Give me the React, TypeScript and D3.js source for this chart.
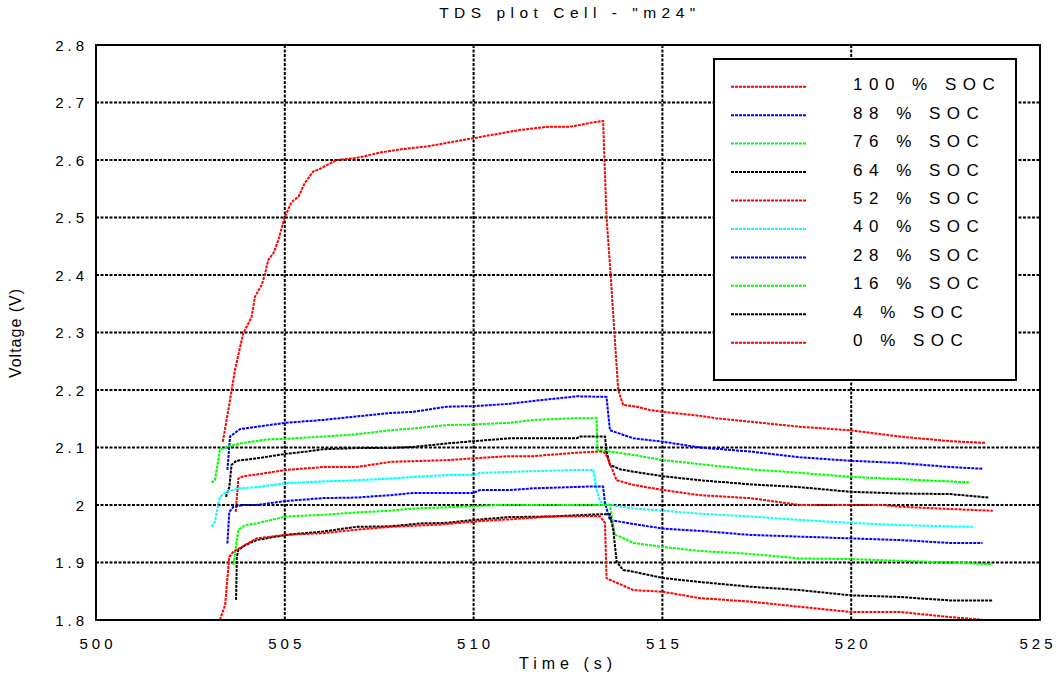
import React from "react";
import * as d3 from "d3";

type Pt = [number, number];

// Time ticks (s) and voltage ticks (V)
const timeTicks = [500, 505, 510, 515, 520, 525];
const voltTicks = [1.8, 1.9, 2.0, 2.1, 2.2, 2.3, 2.4, 2.5, 2.6, 2.7, 2.8];

// Pulse responses, [time (s), voltage (V)]
const soc100: Pt[] = [
  [503.36, 2.11], [503.55, 2.183], [503.68, 2.235], [503.9, 2.299], [503.99, 2.31], [504.12, 2.327],
  [504.21, 2.362], [504.39, 2.383], [504.48, 2.403], [504.56, 2.426], [504.7, 2.438], [504.83, 2.461],
  [505.0, 2.501], [505.18, 2.527], [505.36, 2.536], [505.53, 2.56], [505.75, 2.58], [505.89, 2.583],
  [506.11, 2.591], [506.37, 2.6], [506.82, 2.603], [507.08, 2.606], [507.52, 2.613], [508.0, 2.618],
  [508.8, 2.624], [510.0, 2.638], [511.2, 2.652], [512.0, 2.658], [512.55, 2.658], [512.82, 2.661],
  [513.13, 2.665], [513.43, 2.668], [513.52, 2.501], [513.63, 2.4], [513.73, 2.299], [513.83, 2.2],
  [513.96, 2.174], [514.32, 2.171], [514.67, 2.165], [515.02, 2.162], [516.0, 2.155], [516.4, 2.151],
  [517.3, 2.145], [518.64, 2.136], [519.97, 2.13], [521.29, 2.119], [522.62, 2.111], [523.57, 2.108],
];
const soc88: Pt[] = [
  [503.48, 2.061], [503.55, 2.119], [503.81, 2.132], [504.25, 2.136], [505.03, 2.143], [506.02, 2.148],
  [506.9, 2.154], [507.79, 2.16], [508.4, 2.162], [509.29, 2.171], [509.99, 2.172], [510.96, 2.176],
  [511.58, 2.181], [512.73, 2.189], [513.52, 2.188], [513.61, 2.13], [514.23, 2.116], [515.02, 2.11],
  [516.0, 2.1], [517.32, 2.093], [518.64, 2.083], [519.97, 2.077], [521.29, 2.073], [522.62, 2.066],
  [523.48, 2.063],
];
const soc76: Pt[] = [
  [503.06, 2.039], [503.15, 2.043], [503.28, 2.096], [503.55, 2.103], [503.81, 2.107], [504.52, 2.114],
  [505.03, 2.115], [506.02, 2.119], [506.9, 2.123], [507.79, 2.13], [508.4, 2.133], [509.29, 2.139],
  [509.99, 2.14], [510.96, 2.143], [511.58, 2.148], [512.73, 2.151], [513.26, 2.151], [513.28, 2.096],
  [513.61, 2.093], [514.23, 2.087], [515.02, 2.078], [516.0, 2.071], [517.32, 2.062], [518.64, 2.056],
  [519.97, 2.049], [521.29, 2.045], [522.62, 2.041], [523.15, 2.039],
];
const soc64: Pt[] = [
  [503.44, 2.014], [503.53, 2.031], [503.59, 2.07], [503.72, 2.077], [504.25, 2.081], [505.03, 2.089],
  [505.58, 2.093], [506.02, 2.097], [506.9, 2.099], [507.79, 2.099], [508.4, 2.101], [509.29, 2.107],
  [509.99, 2.111], [510.96, 2.116], [512.73, 2.116], [512.82, 2.119], [513.48, 2.119], [513.52, 2.093],
  [513.61, 2.07], [513.88, 2.062], [514.23, 2.058], [515.02, 2.05], [516.0, 2.043], [517.32, 2.036],
  [518.64, 2.031], [519.97, 2.023], [521.29, 2.02], [522.62, 2.019], [523.63, 2.013],
];
const soc52: Pt[] = [
  [503.7, 1.988], [503.77, 2.046], [503.9, 2.05], [504.25, 2.053], [505.03, 2.061], [506.02, 2.066],
  [506.9, 2.066], [507.79, 2.075], [509.29, 2.078], [509.99, 2.081], [510.96, 2.085], [511.58, 2.085],
  [512.73, 2.091], [513.35, 2.093], [513.48, 2.091], [513.57, 2.078], [513.79, 2.043], [514.23, 2.035],
  [515.02, 2.026], [516.0, 2.017], [517.32, 2.012], [518.64, 2.0], [520.84, 2.0], [521.29, 1.997],
  [522.62, 1.993], [523.75, 1.99],
];
const soc40: Pt[] = [
  [503.06, 1.962], [503.15, 1.971], [503.28, 2.014], [503.46, 2.023], [503.81, 2.029], [504.25, 2.031],
  [505.03, 2.038], [506.02, 2.041], [506.9, 2.043], [507.79, 2.046], [508.4, 2.049], [509.29, 2.052],
  [509.99, 2.052], [510.17, 2.056], [512.73, 2.061], [513.17, 2.061], [513.26, 2.026], [513.35, 2.006],
  [513.61, 2.0], [514.23, 1.994], [515.02, 1.99], [516.0, 1.985], [517.32, 1.98], [518.64, 1.974],
  [519.97, 1.969], [521.29, 1.965], [523.22, 1.962],
];
const soc28: Pt[] = [
  [503.48, 1.933], [503.53, 1.988], [503.64, 1.997], [503.9, 2.0], [504.25, 2.0], [505.03, 2.007],
  [506.02, 2.012], [506.9, 2.013], [507.79, 2.017], [508.4, 2.021], [509.99, 2.021], [510.17, 2.026],
  [510.96, 2.026], [511.58, 2.029], [513.0, 2.032], [513.43, 2.032], [513.48, 2.003], [513.61, 1.974],
  [514.23, 1.967], [515.02, 1.959], [516.0, 1.955], [517.32, 1.948], [518.64, 1.945], [519.97, 1.942],
  [521.29, 1.939], [522.62, 1.934], [523.48, 1.934],
];
const soc16: Pt[] = [
  [503.64, 1.896], [503.68, 1.916], [503.77, 1.957], [503.95, 1.965], [504.25, 1.968], [505.03, 1.98],
  [506.02, 1.983], [506.9, 1.987], [507.79, 1.99], [508.4, 1.994], [509.29, 1.996], [509.99, 1.998],
  [510.61, 2.0], [513.61, 2.0], [513.65, 1.985], [513.74, 1.948], [513.88, 1.945], [514.23, 1.934],
  [515.02, 1.927], [516.0, 1.92], [517.32, 1.915], [518.64, 1.907], [519.97, 1.906], [521.29, 1.903],
  [522.62, 1.9], [523.75, 1.897],
];
const soc4: Pt[] = [
  [503.71, 1.835], [503.73, 1.91], [503.77, 1.922], [503.95, 1.93], [504.25, 1.939], [505.03, 1.948],
  [506.02, 1.954], [506.9, 1.962], [507.79, 1.963], [508.6, 1.968], [509.29, 1.969], [509.99, 1.974],
  [510.96, 1.979], [512.02, 1.98], [513.35, 1.984], [513.61, 1.984], [513.7, 1.956], [513.79, 1.901],
  [513.96, 1.887], [514.23, 1.884], [515.02, 1.873], [516.0, 1.866], [517.32, 1.858], [518.64, 1.852],
  [519.97, 1.843], [521.29, 1.84], [522.62, 1.834], [523.75, 1.834],
];
const soc0: Pt[] = [
  [503.28, 1.8], [503.42, 1.826], [503.46, 1.858], [503.53, 1.91], [503.64, 1.919], [503.81, 1.925],
  [504.25, 1.942], [505.03, 1.948], [506.02, 1.951], [506.9, 1.957], [507.79, 1.962], [509.1, 1.966],
  [509.99, 1.971], [510.61, 1.974], [510.96, 1.975], [512.02, 1.98], [513.17, 1.981], [513.35, 1.98],
  [513.48, 1.969], [513.52, 1.873], [513.61, 1.87], [514.23, 1.852], [515.02, 1.849], [516.0, 1.838],
  [517.32, 1.832], [518.64, 1.823], [519.97, 1.814], [521.29, 1.814], [522.62, 1.805], [523.54, 1.8],
];

const seriesLabels = ["100 % SOC", "88 % SOC", "76 % SOC", "64 % SOC", "52 % SOC", "40 % SOC", "28 % SOC", "16 % SOC", "4 % SOC", "0 % SOC"];
const seriesColors = ["#ff0000", "#0000ff", "#00ff00", "#000000", "#ff0000", "#00ffff", "#0000ff", "#00ff00", "#000000", "#ff0000"];
const seriesData = [soc100, soc88, soc76, soc64, soc52, soc40, soc28, soc16, soc4, soc0];

const W = 1059;
const H = 677;
const M = { left: 96, right: 1040, top: 45, bottom: 620 };
const FONT = "'Liberation Sans', Arial, sans-serif";

export default function App() {
  const x = d3.scaleLinear().domain([500, 525]).range([M.left, M.right]);
  const y = d3.scaleLinear().domain([1.8, 2.8]).range([M.bottom, M.top]);
  const line = d3
    .line<Pt>()
    .x((d) => x(d[0]))
    .y((d) => y(d[1]));

  const legend = { x0: 714, y0: 59, x1: 1016, y1: 380, rowTop: 86.7, rowStep: 28.45 };
  const tickFmt = (v: number) => d3.format("~g")(+v.toFixed(1));

  return (
    <svg
      width={W}
      height={H}
      style={{ position: "absolute", left: 0, top: 0, background: "#fff" }}
      fontFamily={FONT}
    >
      <defs>
        <clipPath id="plot-clip">
          <rect x={M.left} y={M.top} width={M.right - M.left} height={M.bottom - M.top} />
        </clipPath>
      </defs>

      {/* dotted grid */}
      <g stroke="#000" strokeWidth={2} strokeDasharray="3,1.5">
        {timeTicks.slice(1, -1).map((t) => (
          <line key={`gx${t}`} x1={x(t)} x2={x(t)} y1={M.top} y2={M.bottom} />
        ))}
        {voltTicks.slice(1, -1).map((v) => (
          <line key={`gy${v}`} x1={M.left} x2={M.right} y1={y(v)} y2={y(v)} />
        ))}
      </g>

      {/* series */}
      <g clipPath="url(#plot-clip)" fill="none" strokeWidth={2} strokeDasharray="3,1">
        {seriesData.map((d, i) => (
          <path key={seriesLabels[i]} d={line(d) ?? ""} stroke={seriesColors[i]} />
        ))}
      </g>

      {/* frame */}
      <rect
        x={M.left}
        y={M.top}
        width={M.right - M.left}
        height={M.bottom - M.top}
        fill="none"
        stroke="#000"
        strokeWidth={2}
      />

      {/* tick labels */}
      <g fontSize={15} fill="#000" letterSpacing={4}>
        {timeTicks.map((t) => (
          <text key={`tx${t}`} x={x(t) + (t === 525 ? -2 : 2)} y={649} textAnchor="middle">
            {t}
          </text>
        ))}
        {voltTicks.map((v) => (
          <text key={`ty${v}`} x={88} y={y(v) + 5.5} textAnchor="end">
            {tickFmt(v)}
          </text>
        ))}
      </g>

      {/* titles */}
      <text x={570} y={18} textAnchor="middle" fontSize={15.5} letterSpacing={5.5}>
        TDS plot Cell - "m24"
      </text>
      <text x={568} y={669} textAnchor="middle" fontSize={16} letterSpacing={5}>
        Time (s)
      </text>
      <text
        transform={`translate(21, 333) rotate(-90)`}
        textAnchor="middle"
        fontSize={16}
        letterSpacing={1}
      >
        Voltage (V)
      </text>

      {/* legend */}
      <rect
        x={legend.x0}
        y={legend.y0}
        width={legend.x1 - legend.x0}
        height={legend.y1 - legend.y0}
        fill="#fff"
        stroke="#000"
        strokeWidth={2}
      />
      {seriesLabels.map((label, i) => {
        const ly = legend.rowTop + i * legend.rowStep;
        return (
          <g key={`lg${label}`}>
            <line
              x1={731}
              x2={807}
              y1={ly}
              y2={ly}
              stroke={seriesColors[i]}
              strokeWidth={2}
              strokeDasharray="3,1"
            />
            <text x={853} y={ly + 3.5} fontSize={17} letterSpacing={6.5}>
              {label}
            </text>
          </g>
        );
      })}
    </svg>
  );
}
